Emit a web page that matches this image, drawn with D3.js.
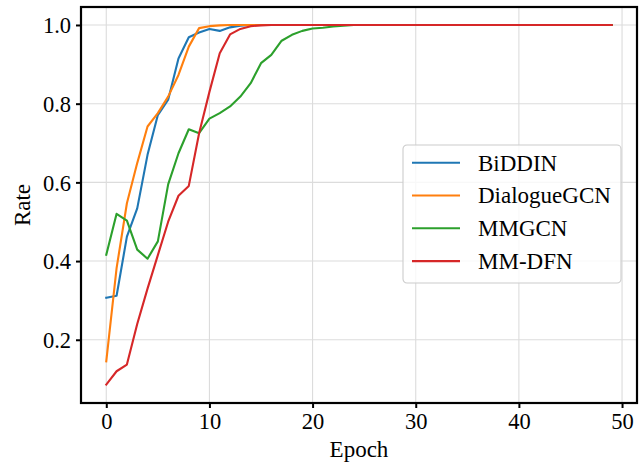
<!DOCTYPE html>
<html>
<head>
<meta charset="utf-8">
<script src="https://cdn.jsdelivr.net/npm/d3@7"></script>
<style>
  body { margin: 0; background: #fff; }
  svg text { font-family: "Liberation Serif", "DejaVu Serif", serif; fill: #000; }
</style>
</head>
<body>
<div id="chart"></div>
<script>
// Convergence curves per epoch (0..49)
const epochs = d3.range(0, 50);
const xTicks = [0, 10, 20, 30, 40, 50];
const yTicks = [0.2, 0.4, 0.6, 0.8, 1.0];
const seriesNames = ["BiDDIN", "DialogueGCN", "MMGCN", "MM-DFN"];
const seriesColors = ["#1f77b4", "#ff7f0e", "#2ca02c", "#d62728"];

const biddin = [
    0.307, 0.312, 0.462, 0.534, 0.670, 0.771, 0.810, 0.915, 0.969, 0.981,
    0.990, 0.985, 0.994, 0.998, 1.0, 1.0, 1.0, 1.0, 1.0, 1.0,
    1.0, 1.0, 1.0, 1.0, 1.0, 1.0, 1.0, 1.0, 1.0, 1.0,
    1.0, 1.0, 1.0, 1.0, 1.0, 1.0, 1.0, 1.0, 1.0, 1.0,
    1.0, 1.0, 1.0, 1.0, 1.0, 1.0, 1.0, 1.0, 1.0, 1.0
];
const dialogueGcn = [
    0.145, 0.382, 0.547, 0.649, 0.742, 0.776, 0.818, 0.873, 0.945, 0.992,
    0.997, 0.999, 1.0, 1.0, 1.0, 1.0, 1.0, 1.0, 1.0, 1.0,
    1.0, 1.0, 1.0, 1.0, 1.0, 1.0, 1.0, 1.0, 1.0, 1.0,
    1.0, 1.0, 1.0, 1.0, 1.0, 1.0, 1.0, 1.0, 1.0, 1.0,
    1.0, 1.0, 1.0, 1.0, 1.0, 1.0, 1.0, 1.0, 1.0, 1.0
];
const mmgcn = [
    0.416, 0.520, 0.503, 0.429, 0.406, 0.450, 0.595, 0.674, 0.735, 0.725,
    0.762, 0.776, 0.793, 0.818, 0.852, 0.903, 0.924, 0.960, 0.975, 0.985,
    0.991, 0.993, 0.996, 0.998, 1.0, 1.0, 1.0, 1.0, 1.0, 1.0,
    1.0, 1.0, 1.0, 1.0, 1.0, 1.0, 1.0, 1.0, 1.0, 1.0,
    1.0, 1.0, 1.0, 1.0, 1.0, 1.0, 1.0, 1.0, 1.0, 1.0
];
const mmDfn = [
    0.086, 0.120, 0.137, 0.240, 0.330, 0.415, 0.500, 0.566, 0.591, 0.725,
    0.830, 0.928, 0.976, 0.990, 0.997, 0.999, 1.0, 1.0, 1.0, 1.0,
    1.0, 1.0, 1.0, 1.0, 1.0, 1.0, 1.0, 1.0, 1.0, 1.0,
    1.0, 1.0, 1.0, 1.0, 1.0, 1.0, 1.0, 1.0, 1.0, 1.0,
    1.0, 1.0, 1.0, 1.0, 1.0, 1.0, 1.0, 1.0, 1.0, 1.0
];

const allSeries = [biddin, dialogueGcn, mmgcn, mmDfn];

const width = 640;
const height = 463;
const margin = { top: 7, right: 3, bottom: 60, left: 81 };

const svg = d3.select("#chart").append("svg")
    .attr("width", width)
    .attr("height", height);

// Scales (matplotlib style 5% padding)
const xScale = d3.scaleLinear()
    .domain([-2.45, 51.45])
    .range([margin.left, width - margin.right]);

const yScale = d3.scaleLinear()
    .domain([0.0393, 1.0457])
    .range([height - margin.bottom, margin.top]);

const plotBottom = height - margin.bottom;
const plotRight = width - margin.right;

// Grid
const grid = svg.append("g").attr("class", "grid");
xTicks.forEach(t => {
    grid.append("line")
        .attr("x1", xScale(t)).attr("x2", xScale(t))
        .attr("y1", margin.top).attr("y2", plotBottom)
        .attr("stroke", "#dcdcdc").attr("stroke-width", 1.1);
});
yTicks.forEach(t => {
    grid.append("line")
        .attr("x1", margin.left).attr("x2", plotRight)
        .attr("y1", yScale(t)).attr("y2", yScale(t))
        .attr("stroke", "#dcdcdc").attr("stroke-width", 1.1);
});

// Lines
const line = d3.line()
    .x((d, i) => xScale(epochs[i]))
    .y(d => yScale(d));

allSeries.forEach((s, i) => {
    svg.append("path")
        .datum(s)
        .attr("fill", "none")
        .attr("stroke", seriesColors[i])
        .attr("stroke-width", 2.1)
        .attr("stroke-linejoin", "round")
        .attr("stroke-linecap", "square")
        .attr("d", line);
});

// Axes
const xAxis = svg.append("g")
    .attr("transform", `translate(0, ${plotBottom})`)
    .call(d3.axisBottom(xScale).tickValues(xTicks).tickSize(5).tickPadding(5).tickFormat(d3.format("d")));

const yAxis = svg.append("g")
    .attr("transform", `translate(${margin.left}, 0)`)
    .call(d3.axisLeft(yScale).tickValues(yTicks).tickSize(5).tickPadding(5).tickFormat(d3.format(".1f")));

[xAxis, yAxis].forEach(ax => {
    ax.select(".domain").remove();
    ax.selectAll(".tick line").attr("stroke", "#000").attr("stroke-width", 2);
    ax.selectAll(".tick text")
        .style("font-family", "'Liberation Serif', serif")
        .style("font-size", "22.5px")
        .attr("fill", "#000");
});
yAxis.selectAll(".tick text").attr("dy", "0.34em");

// Spines
svg.append("rect")
    .attr("x", margin.left)
    .attr("y", margin.top)
    .attr("width", plotRight - margin.left)
    .attr("height", plotBottom - margin.top)
    .attr("fill", "none")
    .attr("stroke", "#000")
    .attr("stroke-width", 2.2);

// Axis labels
svg.append("text")
    .attr("x", (margin.left + plotRight) / 2)
    .attr("y", 457)
    .attr("text-anchor", "middle")
    .style("font-size", "23px")
    .text("Epoch");

svg.append("text")
    .attr("transform", "rotate(-90)")
    .attr("x", -(margin.top + plotBottom) / 2)
    .attr("y", 30)
    .attr("text-anchor", "middle")
    .style("font-size", "23px")
    .text("Rate");

// Legend
const legend = svg.append("g")
    .attr("transform", "translate(403, 145)");

legend.append("rect")
    .attr("width", 218)
    .attr("height", 138)
    .attr("rx", 4)
    .attr("fill", "#fff")
    .attr("fill-opacity", 0.8)
    .attr("stroke", "#cccccc")
    .attr("stroke-width", 1.1);

seriesNames.forEach((name, i) => {
    const g = legend.append("g").attr("transform", `translate(0, ${17.7 + i * 32.8})`);
    g.append("line")
        .attr("x1", 9).attr("x2", 57)
        .attr("y1", 0).attr("y2", 0)
        .attr("stroke", seriesColors[i])
        .attr("stroke-width", 2.1);
    g.append("text")
        .attr("x", 75)
        .attr("y", 7.8)
        .style("font-size", "23px")
        .text(name);
});
</script>
</body>
</html>
